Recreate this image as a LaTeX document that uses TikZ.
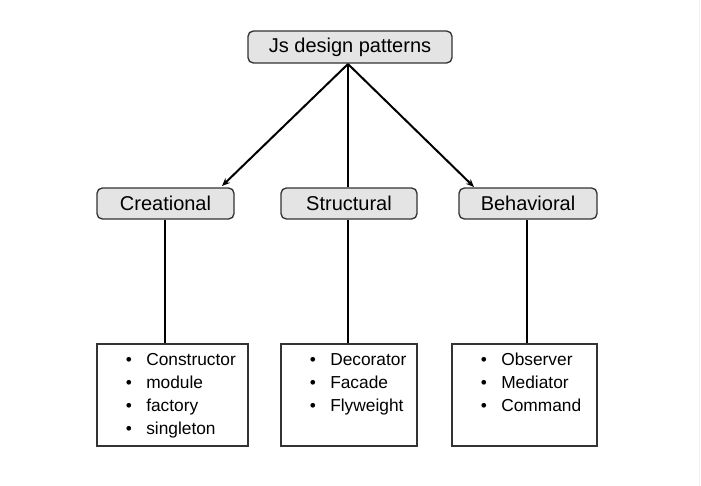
\documentclass[tikz,border=0pt]{standalone}
\usepackage{fontspec}
\setmainfont{Liberation Sans}
\usetikzlibrary{arrows.meta}
\definecolor{boxfill}{HTML}{E4E4E4}
\definecolor{boxline}{HTML}{333333}
\tikzset{
  cat/.style={draw=boxline, line width=1pt, fill=boxfill, rounded corners=4pt, font=\fontsize{15pt}{18pt}\selectfont, inner sep=0pt},
  listbox/.style={draw=boxline, line width=1pt, fill=white, inner sep=0pt},
  conn/.style={line width=1.5pt, black},
  arr/.style={conn, -{Stealth[length=6pt, width=5pt]}},
  item/.style={font=\fontsize{13pt}{17pt}\selectfont, anchor=west, inner sep=0pt, text height=9.5pt, text depth=2.5pt},
  bul/.style={font=\fontsize{13pt}{17pt}\selectfont, anchor=center, inner sep=0pt}
}
\begin{document}
\begin{tikzpicture}[x=0.75pt, y=-0.75pt]
\useasboundingbox (0,0) rectangle (701,486);
\fill[white] (0,0) rectangle (701,486);
\draw[black!6, line width=0.75pt] (699.5,0) -- (699.5,486);
% top
\node[cat, minimum width=204*0.75pt, minimum height=32*0.75pt] (top) at (350,47) {Js design patterns};
% categories
\node[cat, minimum width=137*0.75pt, minimum height=31*0.75pt] (cre) at (165.5,203.5) {Creational};
\node[cat, minimum width=136*0.75pt, minimum height=31*0.75pt] (str) at (349,203.5) {Structural};
\node[cat, minimum width=138*0.75pt, minimum height=31*0.75pt] (beh) at (528,203.5) {Behavioral};
% list boxes
\node[listbox, minimum width=151*0.75pt, minimum height=102*0.75pt] (l1) at (172.5,395) {};
\node[listbox, minimum width=136*0.75pt, minimum height=102*0.75pt] (l2) at (349,395) {};
\node[listbox, minimum width=145*0.75pt, minimum height=102*0.75pt] (l3) at (524.5,395) {};
% connectors
\coordinate (hub) at (348,64);
\coordinate (creT) at (222,186);
\coordinate (behT) at (474,187);
\draw[arr] (hub) -- (creT);
\draw[arr] (hub) -- (behT);
\draw[conn] (hub) -- (str.north -| hub);
\draw[conn] (cre.south -| 165,0) -- (l1.north -| 165,0);
\draw[conn] (str.south -| 348,0) -- (l2.north -| 348,0);
\draw[conn] (beh.south -| 527,0) -- (l3.north -| 527,0);
% items
\foreach \t [count=\i] in {Constructor,module,factory,singleton}{
  \node[bul] (ab\i) at (129,361+23*\i-23) {\textbullet};
  \node[item] (a\i) at (146,361+23*\i-23) {\t};
}
\foreach \t [count=\i] in {Decorator,Facade,Flyweight}{
  \node[bul] (bb\i) at (313,361+23*\i-23) {\textbullet};
  \node[item] (b\i) at (330,361+23*\i-23) {\t};
}
\foreach \t [count=\i] in {Observer,Mediator,Command}{
  \node[bul] (cb\i) at (484,361+23*\i-23) {\textbullet};
  \node[item] (c\i) at (501,361+23*\i-23) {\t};
}
\end{tikzpicture}
\end{document}
